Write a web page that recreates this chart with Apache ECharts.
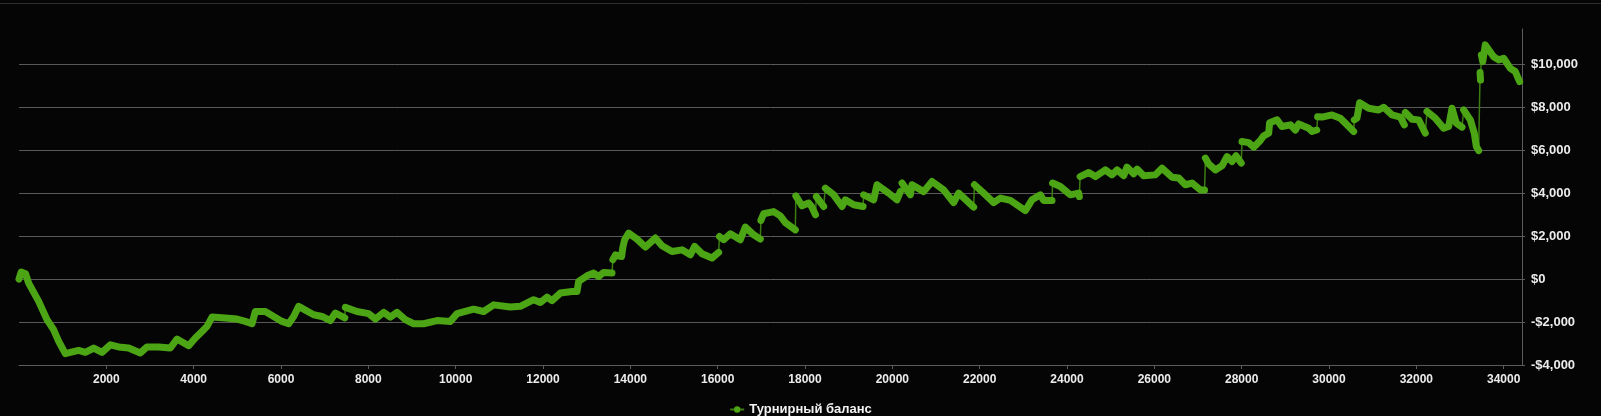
<!DOCTYPE html>
<html>
<head>
<meta charset="utf-8">
<script src="https://cdn.jsdelivr.net/npm/echarts@6/dist/echarts.min.js"></script>
<style>
html,body{margin:0;padding:0;background:#050505;}
#chart{width:1601px;height:416px;}
</style>
</head>
<body>
<div id="chart"></div>
<script>
const seriesName = 'Турнирный баланс';

const games = [
  0, 50, 150, 221, 451, 641, 794, 909, 1061, 1200, 1366, 1519, 1710, 1901, 2092, 2282, 2511, 2779, 2932, 3198,
  3466, 3618, 3885, 4038, 4191, 4305, 4420, 4725, 4993, 5183, 5336, 5412, 5641, 5832, 6023, 6175, 6290, 6404,
  6748, 6939, 7130, 7245, 7460,
  7474, 7741, 8008, 8161, 8352, 8504, 8657, 8847, 9038, 9267, 9573, 9878, 10031, 10412, 10641, 10870, 11252,
  11481, 11786, 11939, 12092, 12206, 12397, 12664, 12779, 12817, 13008, 13160, 13275, 13389, 13580,
  13600, 13660, 13800, 13830, 13870, 13962, 14153, 14343, 14572, 14726, 14954, 15183, 15374, 15473, 15642, 15871, 16023,
  16040, 16138, 16290, 16519, 16634, 16825, 16977,
  16990, 17053, 17282, 17435, 17550, 17779,
  17790, 17932, 18084, 18150, 18240,
  18260, 18427,
  18466, 18657, 18848, 18924, 19115, 19330,
  19344, 19573, 19649, 19915, 20107, 20183,
  20222, 20412, 20451, 20718, 20909, 21175, 21404, 21519, 21863,
  21880, 22092, 22321, 22474, 22703, 23046, 23199, 23390, 23466, 23657,
  23670, 23848, 24077, 24267, 24283,
  24300, 24497, 24650, 24879, 25031, 25146, 25298, 25375, 25527, 25604, 25756, 26023, 26176, 26405, 26558,
  26710, 26863, 27054, 27150,
  27170, 27244, 27397, 27550, 27664, 27779, 27871, 27990,
  28008, 28160, 28275, 28427, 28504, 28619, 28640, 28810, 28924, 29115, 29230, 29306, 29535, 29611, 29720,
  29740, 29840, 30069, 30260, 30412, 30565,
  30580, 30641, 30702, 30908, 31137, 31252, 31443, 31634, 31725,
  31748, 31901, 32053, 32206,
  32244, 32435, 32626, 32740, 32817, 32915, 33046,
  33084, 33237, 33328, 33374, 33427,
  33460, 33470,
  33490, 33520, 33580, 33771, 33885, 34000, 34153, 34267, 34366
];

const balance = [
  0, 330, 250, -190, -1040, -1890, -2360, -2900, -3470, -3400, -3320, -3410, -3210, -3410, -3060, -3160, -3210, -3440, -3160, -3160,
  -3210, -2790, -3100, -2740, -2440, -2200, -1770, -1810, -1860, -1970, -2080, -1510, -1510, -1740, -1970, -2080, -1740, -1270,
  -1660, -1740, -1930, -1580, -1810,
  -1320, -1510, -1610, -1860, -1550, -1770, -1550, -1890, -2080, -2080, -1930, -1970, -1610, -1400, -1510, -1200, -1300,
  -1270, -960, -1090, -840, -1000, -650, -580, -580, -110, 150, 280, 120, 310, 280,
  900, 1130, 1050, 1490, 1830, 2140, 1860, 1490, 1910, 1550, 1280, 1360, 1130, 1520, 1180, 980, 1240,
  1980, 1830, 2110, 1830, 2420, 2060, 1860,
  2730, 3040, 3140, 2940, 2630, 2290,
  3870, 3410, 3540, 3380, 2990,
  3840, 3380,
  4230, 3920, 3380, 3690, 3460, 3380,
  3920, 3690, 4390, 4000, 3690, 4070,
  4470, 3920, 4390, 4070, 4540, 4150, 3560, 4000, 3350,
  4390, 4000, 3560, 3770, 3660, 3190, 3690, 3920, 3660, 3660,
  4470, 4310, 3920, 4000, 3840,
  4770, 4960, 4770, 5080, 4850, 5080, 4810, 5210, 4900, 5120, 4810, 4850, 5160, 4740, 4700,
  4390, 4470, 4150, 4150,
  5630, 5360, 5080, 5270, 5700, 5470, 5740, 5400,
  6400, 6350, 6140, 6450, 6670, 6790, 7280, 7410, 7100, 7180, 6940, 7220, 7020, 6870, 6940,
  7560, 7540, 7640, 7490, 7180, 6870,
  7410, 7490, 8210, 7950, 7870, 8000, 7640, 7540, 7180,
  7750, 7440, 7410, 6790,
  7800, 7490, 7020, 7100, 7950, 7260, 7070,
  7870, 7410, 6790, 6170, 5980,
  9610, 9260,
  10430, 10120, 10900, 10350, 10200, 10280, 9810, 9660, 9190
];

// games at which the thick trace restarts after a jump
const jumpGames = [7474, 13600, 16040, 16990, 17790, 18260, 18466, 19344, 20222, 21880, 23670, 24300,
  27170, 28008, 29740, 30580, 31748, 32244, 33084, 33460, 33490];

const yTicks = { min: -4000, max: 11640, step: 2000 };
const xTicks = { min: 0, max: 34420, step: 2000 };

const allPoints = games.map((g, i) => [g, balance[i]]);
const thickPoints = [];
games.forEach((g, i) => {
  if (jumpGames.indexOf(g) >= 0) thickPoints.push([g, '-']);
  thickPoints.push([g, balance[i]]);
});

function money(v) {
  const s = Math.abs(v).toLocaleString('en-US');
  return (v < 0 ? '-' : '') + '$' + s;
}

const green = '#4ca514';
const fontFamily = 'Liberation Sans, Arial, sans-serif';

const chart = echarts.init(document.getElementById('chart'));
chart.setOption({
  backgroundColor: '#050505',
  animation: false,
  graphic: [{
    type: 'line', silent: true,
    shape: { x1: 0, y1: 3.5, x2: 1601, y2: 3.5 },
    style: { stroke: '#2e2e2e', lineWidth: 1 }
  }],
  grid: { left: 19, right: 79, top: 29, bottom: 51, containLabel: false },
  legend: {
    bottom: 0, left: 'center', padding: [0, 5, 0, 5],
    itemWidth: 14, itemHeight: 8, itemGap: 10,
    textStyle: { color: '#f2f2f2', fontSize: 13, fontWeight: 'bold', fontFamily: fontFamily },
    data: [{ name: seriesName }]
  },
  xAxis: {
    type: 'value', min: xTicks.min, max: xTicks.max, interval: xTicks.step,
    axisLine: { show: true, onZero: false, lineStyle: { color: '#5c5c5c' } },
    axisTick: { show: true, length: 4, lineStyle: { color: '#5c5c5c' } },
    axisLabel: {
      showMinLabel: false, showMaxLabel: false, margin: 9,
      formatter: (v) => String(v),
      color: '#ececec', fontSize: 12, fontWeight: 'bold', fontFamily: fontFamily
    },
    splitLine: { show: false }
  },
  yAxis: {
    type: 'value', position: 'right', min: yTicks.min, max: yTicks.max, interval: yTicks.step,
    axisLine: { show: true, onZero: false, lineStyle: { color: '#5c5c5c' } },
    axisTick: { show: true, length: 3, lineStyle: { color: '#5c5c5c' } },
    axisLabel: {
      showMaxLabel: false, margin: 9, formatter: money,
      color: '#ececec', fontSize: 13, fontWeight: 'bold', fontFamily: fontFamily
    },
    splitLine: { show: true, showMaxLine: false, lineStyle: { color: '#595959', width: 1 } }
  },
  series: [
    {
      name: seriesName, type: 'line', data: allPoints, z: 2,
      symbol: 'circle', symbolSize: 6, showSymbol: false,
      itemStyle: { color: green },
      lineStyle: { color: '#3b7d12', width: 1.5 },
      silent: true
    },
    {
      name: seriesName, type: 'line', data: thickPoints, z: 3,
      symbol: 'none', connectNulls: false,
      itemStyle: { color: green },
      lineStyle: { color: green, width: 7, cap: 'round', join: 'round' },
      silent: true
    }
  ]
});
</script>
</body>
</html>
